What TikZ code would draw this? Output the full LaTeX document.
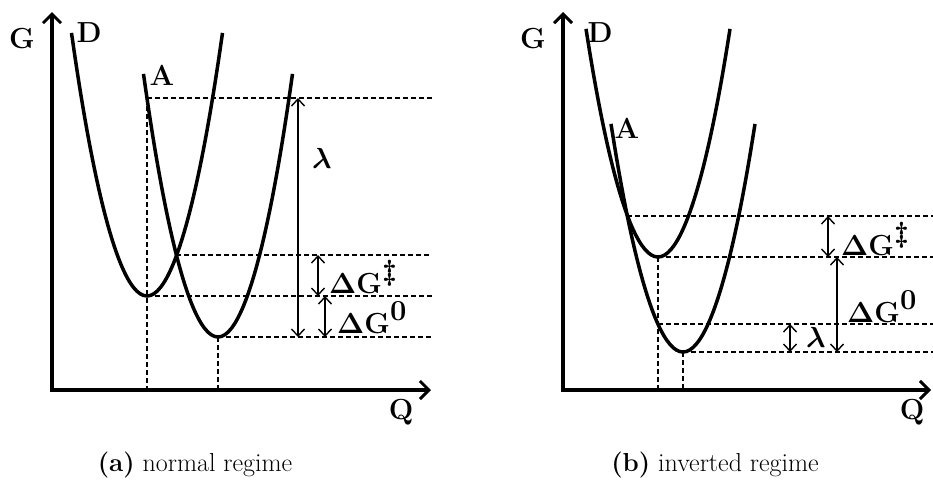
\RequirePackage{fix-cm}
\documentclass[tikz,border=0pt]{standalone}
\usepackage{amsmath,bm}
\usepackage{fontspec}
\usetikzlibrary{arrows.meta}
\begin{document}
\begin{tikzpicture}[x=1pt,y=-1pt,
  curve/.style={line width=3.5pt},
  axis/.style={line width=3.5pt,line join=miter,
    {Straight Barb[length=9pt,width=18pt,line width=3pt]}-{Straight Barb[length=9pt,width=18pt,line width=3pt]}},
  guide/.style={line width=1.4pt,dash pattern=on 5pt off 3pt},
  dim/.style={line width=1.4pt,{Straight Barb[length=7pt,width=13pt]}-{Straight Barb[length=7pt,width=13pt]}},
  lab/.style={font=\fontsize{29}{34}\selectfont\bfseries, inner sep=0pt},
  dlab/.style={font=\fontsize{29}{34}\selectfont\boldmath, inner sep=0pt, anchor=base west},
  captxt/.style={font=\fontsize{26}{30}\selectfont, inner sep=0pt}]
\useasboundingbox (0,0) rectangle (933,493);

% ---------- (a) normal regime ----------
\coordinate (yL) at (52,12);
\coordinate (oL) at (52,390);
\coordinate (xL) at (431,390);
\draw[axis] (yL) -- (oL) -- (xL);
\node[lab] (GL) at (22,39) {G};
\node[lab] (DL) at (89,33) {D};
\node[lab] (AL) at (162,75) {A};
\node[lab] (QL) at (401,412) {Q};

\draw[curve] (71.5,32.9) parabola bend (147,296) (222.5,32.9);
\draw[curve] (143.5,73.9) parabola bend (218,337) (292.5,73.9);

\coordinate (dminL) at (147,296);
\coordinate (aminL) at (218,337);
\coordinate (lamL) at (147,98);
\coordinate (crossL) at (176.4,255);
\coordinate (lamLe) at (432,98);
\coordinate (crossLe) at (432,255);
\coordinate (dminLe) at (432,296);
\coordinate (aminLe) at (432,337);
\coordinate (qDL) at (147,390);
\coordinate (qAL) at (218,390);
\draw[guide] (lamL) -- (lamLe);
\draw[guide] (crossL) -- (crossLe);
\draw[guide] (dminL) -- (dminLe);
\draw[guide] (aminL) -- (aminLe);
\draw[guide] (lamL) -- (qDL);
\draw[guide] (aminL) -- (qAL);

\coordinate (l1) at (298,98);
\coordinate (l2) at (298,337);
\draw[dim] (l1) -- (l2);
\coordinate (g1) at (318,255);
\coordinate (g2) at (318,296);
\draw[dim] (g1) -- (g2);
\coordinate (z1) at (325,296);
\coordinate (z2) at (325,337);
\draw[dim] (z1) -- (z2);
\node[dlab] (lamlabL) at (312,168) {$\lambda$};
\node[dlab] (gdlabL) at (329,293) {$\mathbf{\Delta G}^{\textstyle\ddagger}$};
\node[dlab] (gzlabL) at (337,333) {$\mathbf{\Delta G}^{\textstyle\mathbf{0}}$};

\node[captxt] (capA) at (195,465) {\textbf{(a)} normal regime};

% ---------- (b) inverted regime ----------
\coordinate (yR) at (563,12);
\coordinate (oR) at (563,390);
\coordinate (xR) at (931,390);
\draw[axis] (yR) -- (oR) -- (xR);
\node[lab] (GR) at (533,39) {G};
\node[lab] (DR) at (600,33) {D};
\node[lab] (AR) at (627,128) {A};
\node[lab] (QR) at (912,412) {Q};

\draw[curve] (586,28.9) parabola bend (658,257) (730,28.9);
\draw[curve] (611,123.9) parabola bend (683,352) (755,123.9);

\coordinate (dminR) at (658,257);
\coordinate (aminR) at (683,352);
\coordinate (lamR) at (658,324);
\coordinate (crossR) at (627.3,216);
\coordinate (lamRe) at (933,324);
\coordinate (crossRe) at (933,216);
\coordinate (dminRe) at (933,257);
\coordinate (aminRe) at (933,352);
\coordinate (qDR) at (658,390);
\coordinate (qAR) at (683,390);
\draw[guide] (crossR) -- (crossRe);
\draw[guide] (dminR) -- (dminRe);
\draw[guide] (lamR) -- (lamRe);
\draw[guide] (aminR) -- (aminRe);
\draw[guide] (dminR) -- (qDR);
\draw[guide] (aminR) -- (qAR);

\coordinate (g1R) at (828,216);
\coordinate (g2R) at (828,257);
\draw[dim] (g1R) -- (g2R);
\coordinate (z1R) at (837,257);
\coordinate (z2R) at (837,352);
\draw[dim] (z1R) -- (z2R);
\coordinate (l1R) at (790,324);
\coordinate (l2R) at (790,352);
\draw[dim] (l1R) -- (l2R);
\node[dlab] (gdlabR) at (841,255) {$\mathbf{\Delta G}^{\textstyle\ddagger}$};
\node[dlab] (gzlabR) at (847,322) {$\mathbf{\Delta G}^{\textstyle\mathbf{0}}$};
\node[dlab] (lamlabR) at (806,347) {$\lambda$};

\node[captxt] (capB) at (715,465) {\textbf{(b)} inverted regime};
\end{tikzpicture}
\end{document}
